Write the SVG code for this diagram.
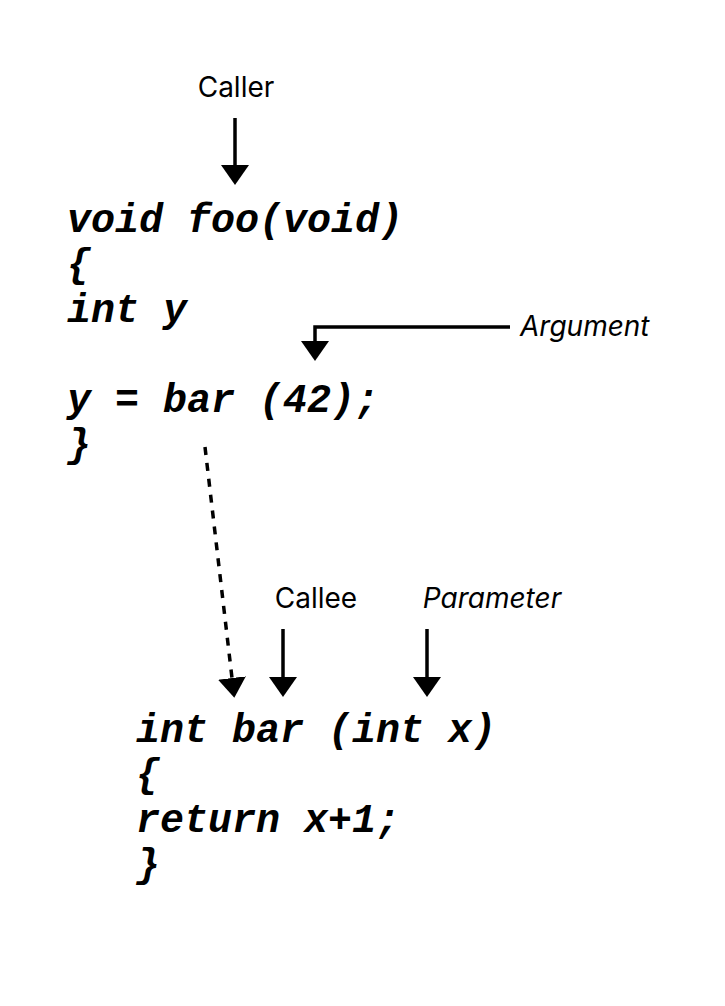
<svg xmlns="http://www.w3.org/2000/svg" width="725" height="1006" viewBox="0 0 725 1006">
<style>
.code{font-family:"Liberation Mono","Courier New",monospace;font-weight:bold;font-style:italic;font-size:40px;fill:#000}
.lbl{font-family:Inter,"Liberation Sans",sans-serif;font-size:28px;fill:#000}
.it{font-style:italic}
.ln{stroke:#000;stroke-width:3.5;fill:none}
.dash{stroke-dasharray:8 8}
</style>
<defs>
<marker id="ah" markerUnits="userSpaceOnUse" markerWidth="20" markerHeight="28" viewBox="0 0 20 28" refX="0" refY="14" orient="auto">
<path d="M0,0 L20,14 L0,28 z" fill="#000"/>
</marker>
</defs>
<rect width="725" height="1006" fill="#fff"/>
<g id="caller-label"><text class="lbl" x="236" y="97" text-anchor="middle">Caller</text></g>
<g id="foo">
<text class="code" x="67" y="232">void foo(void)</text>
<text class="code" x="67" y="277">{</text>
<text class="code" x="67" y="322">int y</text>
<text class="code" x="67" y="412">y = bar (42);</text>
<text class="code" x="67" y="457">}</text>
</g>
<g id="argument-label"><text class="lbl it" x="520" y="336">Argument</text></g>
<g id="callee-label"><text class="lbl" x="316" y="608" text-anchor="middle">Callee</text></g>
<g id="parameter-label"><text class="lbl it" x="492" y="608" text-anchor="middle">Parameter</text></g>
<g id="bar">
<text class="code" x="136" y="742">int bar (int x)</text>
<text class="code" x="136" y="787">{</text>
<text class="code" x="136" y="832">return x+1;</text>
<text class="code" x="136" y="877">}</text>
</g>
<g id="connectors">
<path class="ln" d="M235,118 V165" marker-end="url(#ah)"/>
<path class="ln" d="M510,327 H315 V341" marker-end="url(#ah)"/>
<path class="ln dash" d="M205,447 L232,678" marker-end="url(#ah)"/>
<path class="ln" d="M283,629 V677" marker-end="url(#ah)"/>
<path class="ln" d="M427,629 V677" marker-end="url(#ah)"/>
</g>
</svg>
